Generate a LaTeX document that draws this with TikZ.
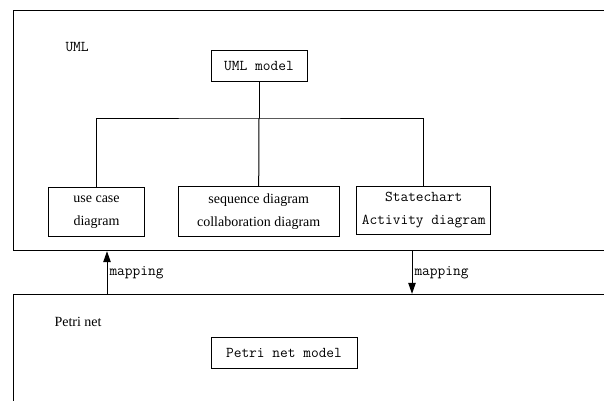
\documentclass[tikz,border=0pt]{standalone}
\usepackage{fontspec}
\setmainfont{Liberation Serif}
\usetikzlibrary{arrows.meta}
\newcommand{\sn}{\ttfamily\fontsize{15}{23}\selectfont}
\newcommand{\tm}{\fontsize{14}{23}\selectfont}

\begin{document}
\begin{tikzpicture}[x=1pt,y=-1pt,line width=1pt,
   frame/.style={draw,inner sep=0pt},
   box/.style={draw,inner sep=0pt,align=center},
   lbl/.style={inner sep=0pt,anchor=west},
   map/.style={-{Triangle[length=11pt,width=7.5pt]}}]
   \useasboundingbox (0,0) rectangle (604,400);
   \clip (0,0) rectangle (604,400);
   \node[frame,minimum width=627pt,minimum height=240.7pt] (uml)   at (326.5,130.35) {};
   \node[frame,minimum width=627pt,minimum height=125.7pt] (petri) at (326.5,357.15) {};
   \node[lbl,font=\sn] (umltxt)   at ( 65, 47) {UML};
   \node[lbl,font=\tm] (petritxt) at ( 54,322) {Petri net};
   \node[box,font=\sn,minimum width=96pt,minimum height=31pt]      (model)   at (259.0, 66.3) {UML model};
   \node[box,font=\tm,minimum width=95.5pt,minimum height=49pt]    (usecase) at ( 96.5,212.2) {use case\\diagram};
   \node[box,font=\tm,minimum width=160.7pt,minimum height=50pt]   (seq)     at (258.7,211.7) {sequence diagram\\collaboration diagram};
   \node[box,font=\sn,minimum width=134pt,minimum height=47.6pt]   (state)   at (423.7,210.5) {Statechart\\Activity diagram};
   \node[box,font=\sn,minimum width=146pt,minimum height=31pt]     (pnmodel) at (284.0,352.8) {Petri net model};
   \coordinate (bar)   at (259,118);
   \coordinate (upx)   at (107,0);
   \coordinate (downx) at (412,0);
   \draw (model.south) -- (bar);
   \draw (usecase.north) |- (bar) -| (state.north);
   \draw (bar) -- (seq.north);
   \draw[map] (petri.north -| upx) -- (uml.south -| upx)
      node[midway,right,inner sep=2pt,font=\sn] (mapup) {mapping};
   \draw[map] (uml.south -| downx) -- (petri.north -| downx)
      node[midway,right,inner sep=2pt,font=\sn] (mapdown) {mapping};
\end{tikzpicture}
\end{document}
